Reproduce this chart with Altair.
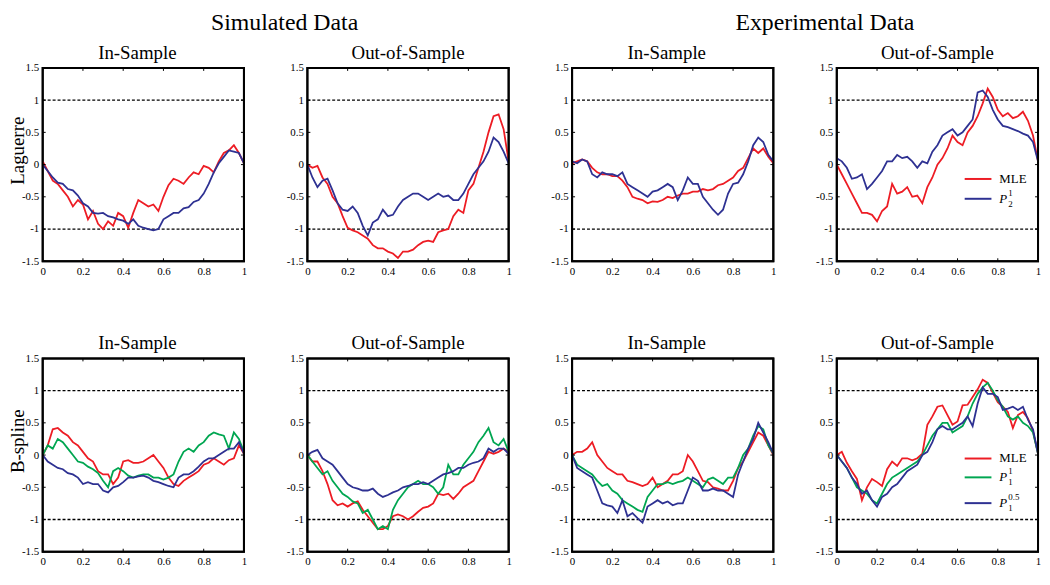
import altair as alt
import pandas as pd

# ---------------- data ----------------
X = [0, 0.025, 0.05, 0.075, 0.1, 0.125, 0.15, 0.175, 0.2, 0.225,
     0.25, 0.275, 0.3, 0.325, 0.35, 0.375, 0.4, 0.425, 0.45, 0.475,
     0.5, 0.525, 0.55, 0.575, 0.6, 0.625, 0.65, 0.675, 0.7, 0.725,
     0.75, 0.775, 0.8, 0.825, 0.85, 0.875, 0.9, 0.925, 0.95, 0.975,
     1.0]
XT = [0, 0.2, 0.4, 0.6, 0.8, 1]
YT = [-1.5, -1, -0.5, 0, 0.5, 1, 1.5]
BOUNDS = [1, -1]

# Laguerre, simulated, in-sample
sim_in_lag_mle = [0.05, -0.1, -0.25, -0.3, -0.4, -0.5, -0.65, -0.55, -0.62, -0.85,
                  -0.72, -0.92, -1.0, -0.88, -0.95, -0.75, -0.8, -0.98, -0.75, -0.55,
                  -0.6, -0.65, -0.62, -0.72, -0.5, -0.32, -0.22, -0.25, -0.3, -0.2,
                  -0.12, -0.15, -0.02, -0.05, -0.12, 0.05, 0.18, 0.22, 0.3, 0.18,
                  0.02]
sim_in_lag_p = [0.0, -0.1, -0.2, -0.28, -0.3, -0.38, -0.4, -0.48, -0.6, -0.65,
                -0.75, -0.76, -0.75, -0.8, -0.82, -0.85, -0.87, -0.92, -0.85, -0.95,
                -0.98, -1.0, -1.02, -1.0, -0.85, -0.8, -0.75, -0.75, -0.68, -0.66,
                -0.58, -0.55, -0.45, -0.3, -0.12, 0.02, 0.12, 0.22, 0.2, 0.18,
                0.02]
# Laguerre, simulated, out-of-sample
sim_out_lag_mle = [0.0, -0.05, -0.02, -0.2, -0.3, -0.5, -0.6, -0.8, -0.98, -1.02,
                   -1.05, -1.1, -1.15, -1.25, -1.3, -1.3, -1.35, -1.38, -1.45, -1.35,
                   -1.35, -1.32, -1.25, -1.2, -1.18, -1.2, -1.05, -1.02, -1.0, -0.8,
                   -0.7, -0.75, -0.4, -0.3, -0.05, 0.2, 0.5, 0.75, 0.78, 0.55,
                   0.05]
sim_out_lag_p = [0.0, -0.2, -0.35, -0.25, -0.22, -0.4, -0.6, -0.7, -0.72, -0.65,
                 -0.75, -0.95, -1.1, -0.9, -0.85, -0.7, -0.8, -0.78, -0.65, -0.55,
                 -0.5, -0.45, -0.45, -0.5, -0.55, -0.5, -0.45, -0.5, -0.48, -0.55,
                 -0.55, -0.45, -0.3, -0.15, -0.05, 0.05, 0.2, 0.42, 0.35, 0.2,
                 0.02]
# Laguerre, experimental, in-sample
exp_in_lag_mle = [0.02, 0.05, 0.08, 0.05, -0.05, -0.12, -0.15, -0.15, -0.18, -0.18,
                  -0.25, -0.35, -0.5, -0.53, -0.55, -0.6, -0.57, -0.58, -0.55, -0.5,
                  -0.52, -0.48, -0.45, -0.45, -0.42, -0.42, -0.38, -0.4, -0.38, -0.32,
                  -0.3, -0.25, -0.2, -0.1, -0.05, 0.1, 0.25, 0.18, 0.25, 0.12,
                  0.02]
exp_in_lag_p = [0.05, 0.02, 0.08, 0.05, -0.15, -0.2, -0.12, -0.15, -0.15, -0.18,
                -0.12, -0.3, -0.35, -0.4, -0.45, -0.5, -0.42, -0.4, -0.35, -0.3,
                -0.35, -0.55, -0.4, -0.2, -0.3, -0.3, -0.5, -0.6, -0.7, -0.78,
                -0.7, -0.45, -0.3, -0.28, -0.15, 0.05, 0.3, 0.42, 0.35, 0.15,
                0.05]
# Laguerre, experimental, out-of-sample
exp_out_lag_mle = [0.0, -0.15, -0.3, -0.45, -0.6, -0.75, -0.75, -0.78, -0.88, -0.72,
                   -0.65, -0.3, -0.45, -0.42, -0.35, -0.5, -0.48, -0.6, -0.35, -0.2,
                   0.0, 0.1, 0.25, 0.45, 0.35, 0.3, 0.5, 0.6, 0.75, 0.95,
                   1.18, 1.05, 0.85, 0.75, 0.8, 0.72, 0.75, 0.82, 0.68, 0.45,
                   0.05]
exp_out_lag_p = [0.1, 0.05, -0.05, -0.22, -0.2, -0.15, -0.38, -0.3, -0.2, -0.1,
                 0.05, 0.05, 0.15, 0.1, 0.12, 0.05, -0.05, 0.05, 0.02, 0.2,
                 0.3, 0.45, 0.5, 0.55, 0.45, 0.5, 0.6, 0.7, 1.12, 1.15,
                 1.05, 0.85, 0.7, 0.6, 0.58, 0.55, 0.52, 0.48, 0.45, 0.35,
                 0.05]
# B-spline, simulated, in-sample
sim_in_bs_mle = [0.0, 0.15, 0.4, 0.42, 0.35, 0.3, 0.2, 0.15, 0.05, -0.05,
                 -0.1, -0.25, -0.3, -0.3, -0.45, -0.35, -0.1, -0.08, -0.12, -0.12,
                 -0.1, -0.05, 0.0, -0.1, -0.2, -0.35, -0.45, -0.48, -0.4, -0.35,
                 -0.3, -0.25, -0.15, -0.12, -0.05, -0.1, -0.15, -0.08, -0.05, 0.15,
                 0.02]
sim_in_bs_p1 = [0.0, 0.15, 0.1, 0.25, 0.2, 0.1, 0.0, -0.1, -0.12, -0.18,
                -0.22, -0.28, -0.4, -0.5, -0.25, -0.2, -0.25, -0.32, -0.35, -0.32,
                -0.3, -0.3, -0.35, -0.35, -0.38, -0.35, -0.3, -0.1, 0.05, 0.1,
                0.05, 0.15, 0.2, 0.3, 0.35, 0.32, 0.3, 0.1, 0.35, 0.25,
                0.05]
sim_in_bs_p05 = [0.0, -0.1, -0.15, -0.2, -0.22, -0.28, -0.3, -0.35, -0.45, -0.42,
                 -0.45, -0.45, -0.55, -0.58, -0.5, -0.48, -0.42, -0.35, -0.35, -0.33,
                 -0.32, -0.35, -0.4, -0.42, -0.45, -0.48, -0.5, -0.35, -0.3, -0.3,
                 -0.25, -0.18, -0.1, -0.05, -0.05, 0.0, 0.05, 0.1, 0.1, 0.2,
                 0.02]
# B-spline, simulated, out-of-sample
sim_out_bs_mle = [0.0, -0.1, -0.1, -0.25, -0.45, -0.7, -0.78, -0.75, -0.8, -0.75,
                  -0.72, -0.85, -0.95, -1.05, -1.15, -1.15, -1.1, -0.95, -0.92, -0.95,
                  -1.0, -0.95, -0.88, -0.82, -0.8, -0.75, -0.6, -0.62, -0.6, -0.68,
                  -0.6, -0.5, -0.45, -0.4, -0.25, -0.1, 0.05, 0.02, 0.05, 0.1,
                  0.05]
sim_out_bs_p1 = [0.0, -0.1, -0.2, -0.3, -0.25, -0.4, -0.5, -0.6, -0.65, -0.72,
                 -0.75, -0.9, -0.85, -1.0, -1.15, -1.1, -1.15, -0.85, -0.7, -0.6,
                 -0.5, -0.45, -0.4, -0.45, -0.45, -0.5, -0.6, -0.5, -0.15, -0.3,
                 -0.3, -0.15, -0.05, 0.05, 0.2, 0.3, 0.42, 0.2, 0.15, 0.25,
                 0.05]
sim_out_bs_p05 = [0.0, 0.05, 0.08, -0.05, -0.1, -0.15, -0.25, -0.35, -0.45, -0.5,
                  -0.52, -0.55, -0.55, -0.52, -0.6, -0.65, -0.62, -0.58, -0.55, -0.5,
                  -0.48, -0.45, -0.45, -0.42, -0.45, -0.4, -0.35, -0.3, -0.28, -0.25,
                  -0.2, -0.2, -0.15, -0.12, -0.1, -0.05, 0.1, 0.05, 0.1, 0.1,
                  0.02]
# B-spline, experimental, in-sample
exp_in_bs_mle = [0.0, 0.05, 0.05, 0.1, 0.2, 0.0, -0.1, -0.2, -0.25, -0.3,
                 -0.3, -0.4, -0.42, -0.45, -0.48, -0.45, -0.35, -0.5, -0.45, -0.4,
                 -0.3, -0.3, -0.25, 0.0, -0.1, -0.25, -0.4, -0.42, -0.5, -0.52,
                 -0.55, -0.55, -0.4, -0.2, -0.1, 0.05, 0.2, 0.35, 0.3, 0.15,
                 0.0]
exp_in_bs_p1 = [0.0, -0.15, -0.2, -0.25, -0.3, -0.4, -0.48, -0.45, -0.55, -0.6,
                -0.7, -0.75, -0.8, -0.85, -0.88, -0.65, -0.55, -0.45, -0.45, -0.42,
                -0.45, -0.42, -0.4, -0.35, -0.4, -0.45, -0.5, -0.38, -0.35, -0.4,
                -0.45, -0.35, -0.35, -0.2, 0.0, 0.1, 0.3, 0.45, 0.4, 0.15,
                0.02]
exp_in_bs_p05 = [0.0, -0.2, -0.25, -0.3, -0.35, -0.55, -0.75, -0.78, -0.8, -0.9,
                 -0.7, -0.95, -0.9, -0.98, -1.05, -0.8, -0.75, -0.7, -0.75, -0.72,
                 -0.78, -0.75, -0.75, -0.55, -0.35, -0.4, -0.55, -0.55, -0.52, -0.55,
                 -0.55, -0.6, -0.65, -0.3, -0.1, 0.1, 0.25, 0.5, 0.35, 0.2,
                 0.02]
# B-spline, experimental, out-of-sample
exp_out_bs_mle = [0.0, 0.05, -0.12, -0.25, -0.37, -0.7, -0.5, -0.37, -0.42, -0.48,
                  -0.22, -0.1, -0.17, -0.05, -0.05, -0.08, -0.05, 0.02, 0.47, 0.6,
                  0.75, 0.77, 0.62, 0.47, 0.52, 0.77, 0.78, 0.9, 1.02, 1.17,
                  1.12, 0.97, 0.82, 0.75, 0.67, 0.42, 0.62, 0.67, 0.57, 0.37,
                  0.02]
exp_out_bs_p1 = [0.0, -0.1, -0.2, -0.35, -0.5, -0.55, -0.6, -0.7, -0.75, -0.6,
                 -0.45, -0.35, -0.3, -0.25, -0.2, -0.15, -0.1, 0.0, 0.15, 0.3,
                 0.4, 0.5, 0.5, 0.35, 0.4, 0.45, 0.6, 0.8, 0.95, 1.05,
                 1.12, 1.0, 0.85, 0.75, 0.6, 0.55, 0.6, 0.5, 0.45, 0.35,
                 0.02]
exp_out_bs_p05 = [0.0, -0.1, -0.2, -0.35, -0.45, -0.6, -0.55, -0.7, -0.8, -0.65,
                  -0.6, -0.5, -0.45, -0.35, -0.25, -0.2, -0.15, 0.0, 0.05, 0.2,
                  0.4, 0.45, 0.4, 0.4, 0.45, 0.5, 0.6, 0.45, 0.8, 1.05,
                  0.95, 0.95, 0.9, 0.7, 0.72, 0.75, 0.7, 0.75, 0.55, 0.4,
                  0.02]

# ---------------- styling ----------------
W, H = 203, 195
FONT = "Liberation Serif"
RED, GREEN, BLUE = "#ED1C24", "#00A651", "#2E3192"

# legend entries: (main text, subscript, superscript, color)
LEG_TOP = [("MLE", "", "", RED), ("P", "2", "1", BLUE)]
LEG_TOP_Y = [112, 132]
LEG_BOT = [("MLE", "", "", RED), ("P", "1", "1", GREEN), ("P", "1", "0.5", BLUE)]
LEG_BOT_Y = [101, 120, 146]

PANELS = [
    dict(title="In-Sample", row="Laguerre", header=("Simulated Data", 244),
         series=[(sim_in_lag_mle, RED), (sim_in_lag_p, BLUE)]),
    dict(title="Out-of-Sample", series=[(sim_out_lag_mle, RED), (sim_out_lag_p, BLUE)]),
    dict(title="In-Sample", header=("Experimental Data", 255),
         series=[(exp_in_lag_mle, RED), (exp_in_lag_p, BLUE)]),
    dict(title="Out-of-Sample", legend=(LEG_TOP, LEG_TOP_Y),
         series=[(exp_out_lag_mle, RED), (exp_out_lag_p, BLUE)]),
    dict(title="In-Sample", row="B-spline",
         series=[(sim_in_bs_mle, RED), (sim_in_bs_p1, GREEN), (sim_in_bs_p05, BLUE)]),
    dict(title="Out-of-Sample",
         series=[(sim_out_bs_mle, RED), (sim_out_bs_p1, GREEN), (sim_out_bs_p05, BLUE)]),
    dict(title="In-Sample",
         series=[(exp_in_bs_mle, RED), (exp_in_bs_p1, GREEN), (exp_in_bs_p05, BLUE)]),
    dict(title="Out-of-Sample", legend=(LEG_BOT, LEG_BOT_Y),
         series=[(exp_out_bs_mle, RED), (exp_out_bs_p1, GREEN), (exp_out_bs_p05, BLUE)]),
]

AXIS_STYLE = dict(domain=False, ticks=False, tickSize=0, grid=False,
                  labelFont=FONT, labelFontSize=11, labelColor="black",
                  labelPadding=4, labelFlush=False, labelOverlap=False,
                  labelBound=False, labelExpr="datum.value + ''")


def x_enc():
    return alt.X("x:Q", scale=alt.Scale(domain=[0, 1], nice=False, zero=False),
                 axis=alt.Axis(values=XT, title=None, **AXIS_STYLE))


def y_enc(row_title=None):
    if row_title:
        axis = alt.Axis(values=YT, title=row_title,
                        titleX=-15, titleY=83, titleAngle=270, titleBaseline="bottom",
                        titleAlign="center", titleFontSize=19, titleFont=FONT,
                        titleFontWeight="normal", titleColor="black", **AXIS_STYLE)
    else:
        axis = alt.Axis(values=YT, title=None, **AXIS_STYLE)
    return alt.Y("y:Q", scale=alt.Scale(domain=[-1.5, 1.5], nice=False, zero=False),
                 axis=axis)


def one(label):
    return pd.DataFrame({"label": [label]})


def text_layer(label, x, y, size, align="center", baseline="alphabetic", style="normal"):
    return (alt.Chart(one(label))
            .mark_text(font=FONT, fontSize=size, color="black", align=align,
                       baseline=baseline, fontStyle=style)
            .encode(text="label:N", x=alt.value(x), y=alt.value(y)))


def panel(p):
    row_title = p.get("row")
    layers = []
    # dashed reference lines at +1 / -1
    layers.append(
        alt.Chart(pd.DataFrame({"y": BOUNDS}))
        .mark_rule(color="black", strokeWidth=1.3, strokeDash=[3, 2])
        .encode(y=y_enc(row_title))
    )
    # series lines
    for vals, col in p["series"]:
        layers.append(
            alt.Chart(pd.DataFrame({"x": X, "y": vals}))
            .mark_line(color=col, strokeWidth=1.8, clip=True)
            .encode(x=x_enc(), y=y_enc(row_title))
        )
    # inward tick marks
    xt = pd.DataFrame({"x": XT})
    yt = pd.DataFrame({"y": YT})
    layers.append(alt.Chart(xt).mark_rule(color="black", strokeWidth=1)
                  .encode(x=x_enc(), y=alt.value(H), y2=alt.value(H - 3)))
    layers.append(alt.Chart(xt).mark_rule(color="black", strokeWidth=1)
                  .encode(x=x_enc(), y=alt.value(0), y2=alt.value(3)))
    layers.append(alt.Chart(yt).mark_rule(color="black", strokeWidth=1)
                  .encode(y=y_enc(row_title), x=alt.value(0), x2=alt.value(3)))
    layers.append(alt.Chart(yt).mark_rule(color="black", strokeWidth=1)
                  .encode(y=y_enc(row_title), x=alt.value(W), x2=alt.value(W - 3)))
    # frame box
    layers.append(
        alt.Chart(one("frame"))
        .mark_rect(fill="transparent", stroke="black", strokeWidth=2)
        .encode(x=alt.value(0), x2=alt.value(W), y=alt.value(0), y2=alt.value(H))
    )
    # panel title
    dx = -6 if p["title"] == "In-Sample" else 0
    layers.append(text_layer(p["title"], W / 2 + dx, -9, 19))
    # group header (Simulated / Experimental Data)
    if "header" in p:
        txt, xpos = p["header"]
        layers.append(text_layer(txt, xpos, -38, 24))
    # legend
    if "legend" in p:
        items, ys = p["legend"]
        for (main, sub, sup, col), yy in zip(items, ys):
            layers.append(
                alt.Chart(one(main)).mark_rule(color=col, strokeWidth=2)
                .encode(x=alt.value(129), x2=alt.value(156), y=alt.value(yy))
            )
            layers.append(text_layer(main, 164, yy, 13, align="left", baseline="middle",
                                     style="italic" if sub else "normal"))
            if sub:
                layers.append(text_layer(sub, 173, yy + 5, 9, align="left", baseline="middle"))
            if sup:
                layers.append(text_layer(sup, 173, yy - 6, 9, align="left", baseline="middle"))
    return alt.layer(*layers).properties(width=W, height=H)


charts = [panel(p) for p in PANELS]

chart = (
    alt.concat(*charts, columns=4, spacing={"row": 98, "column": 64}, bounds="flush")
    .properties(padding=0)
    .configure(font=FONT, background="white")
    .configure_view(stroke="black", strokeWidth=2)
    .configure_axis(domain=False, ticks=False, tickSize=0, grid=False,
                    labelFont=FONT, labelFontSize=11, labelColor="black")
)

chart.save("out.html", embed_options={"renderer": "svg", "actions": False})
